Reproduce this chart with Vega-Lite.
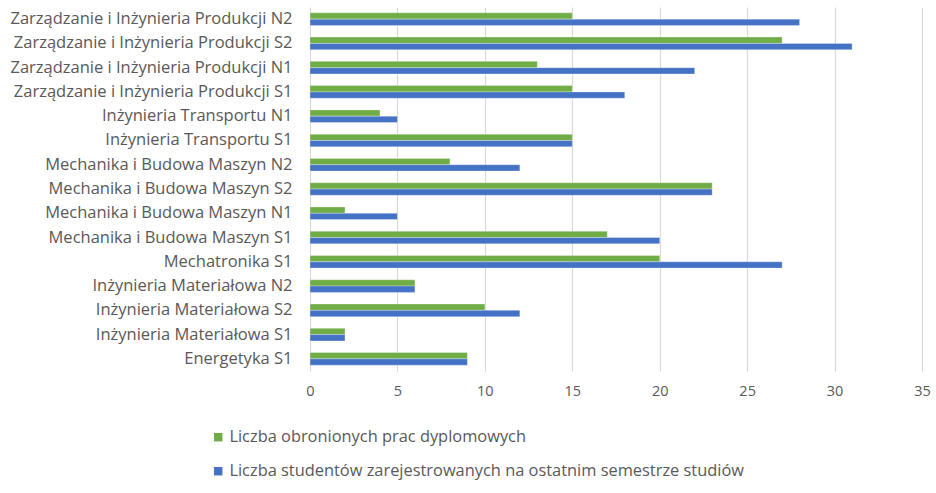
{
  "$schema": "https://vega.github.io/schema/vega-lite/v6.json",
  "width": 612,
  "height": 364,
  "autosize": {"type": "none"},
  "padding": {"left": 310, "top": 7, "right": 14, "bottom": 122},
  "background": "white",
  "config": {
    "font": "Open Sans",
    "view": {"stroke": null},
    "axis": {"labelColor": "#595959", "labelFont": "Open Sans", "labelFontSize": 16.5},
    "legend": {"labelColor": "#595959", "labelFont": "Open Sans", "labelFontSize": 16.4}
  },
  "data": {
    "values": [
      {"kierunek": "Zarządzanie i Inżynieria Produkcji N2", "seria": "Liczba obronionych prac dyplomowych", "wartosc": 15},
      {"kierunek": "Zarządzanie i Inżynieria Produkcji N2", "seria": "Liczba studentów zarejestrowanych na ostatnim semestrze studiów", "wartosc": 28},
      {"kierunek": "Zarządzanie i Inżynieria Produkcji S2", "seria": "Liczba obronionych prac dyplomowych", "wartosc": 27},
      {"kierunek": "Zarządzanie i Inżynieria Produkcji S2", "seria": "Liczba studentów zarejestrowanych na ostatnim semestrze studiów", "wartosc": 31},
      {"kierunek": "Zarządzanie i Inżynieria Produkcji N1", "seria": "Liczba obronionych prac dyplomowych", "wartosc": 13},
      {"kierunek": "Zarządzanie i Inżynieria Produkcji N1", "seria": "Liczba studentów zarejestrowanych na ostatnim semestrze studiów", "wartosc": 22},
      {"kierunek": "Zarządzanie i Inżynieria Produkcji S1", "seria": "Liczba obronionych prac dyplomowych", "wartosc": 15},
      {"kierunek": "Zarządzanie i Inżynieria Produkcji S1", "seria": "Liczba studentów zarejestrowanych na ostatnim semestrze studiów", "wartosc": 18},
      {"kierunek": "Inżynieria Transportu  N1", "seria": "Liczba obronionych prac dyplomowych", "wartosc": 4},
      {"kierunek": "Inżynieria Transportu  N1", "seria": "Liczba studentów zarejestrowanych na ostatnim semestrze studiów", "wartosc": 5},
      {"kierunek": "Inżynieria Transportu  S1", "seria": "Liczba obronionych prac dyplomowych", "wartosc": 15},
      {"kierunek": "Inżynieria Transportu  S1", "seria": "Liczba studentów zarejestrowanych na ostatnim semestrze studiów", "wartosc": 15},
      {"kierunek": "Mechanika i Budowa Maszyn N2", "seria": "Liczba obronionych prac dyplomowych", "wartosc": 8},
      {"kierunek": "Mechanika i Budowa Maszyn N2", "seria": "Liczba studentów zarejestrowanych na ostatnim semestrze studiów", "wartosc": 12},
      {"kierunek": "Mechanika i Budowa Maszyn S2", "seria": "Liczba obronionych prac dyplomowych", "wartosc": 23},
      {"kierunek": "Mechanika i Budowa Maszyn S2", "seria": "Liczba studentów zarejestrowanych na ostatnim semestrze studiów", "wartosc": 23},
      {"kierunek": "Mechanika i Budowa Maszyn N1", "seria": "Liczba obronionych prac dyplomowych", "wartosc": 2},
      {"kierunek": "Mechanika i Budowa Maszyn N1", "seria": "Liczba studentów zarejestrowanych na ostatnim semestrze studiów", "wartosc": 5},
      {"kierunek": "Mechanika i Budowa Maszyn S1", "seria": "Liczba obronionych prac dyplomowych", "wartosc": 17},
      {"kierunek": "Mechanika i Budowa Maszyn S1", "seria": "Liczba studentów zarejestrowanych na ostatnim semestrze studiów", "wartosc": 20},
      {"kierunek": "Mechatronika S1", "seria": "Liczba obronionych prac dyplomowych", "wartosc": 20},
      {"kierunek": "Mechatronika S1", "seria": "Liczba studentów zarejestrowanych na ostatnim semestrze studiów", "wartosc": 27},
      {"kierunek": "Inżynieria Materiałowa N2", "seria": "Liczba obronionych prac dyplomowych", "wartosc": 6},
      {"kierunek": "Inżynieria Materiałowa N2", "seria": "Liczba studentów zarejestrowanych na ostatnim semestrze studiów", "wartosc": 6},
      {"kierunek": "Inżynieria Materiałowa S2", "seria": "Liczba obronionych prac dyplomowych", "wartosc": 10},
      {"kierunek": "Inżynieria Materiałowa S2", "seria": "Liczba studentów zarejestrowanych na ostatnim semestrze studiów", "wartosc": 12},
      {"kierunek": "Inżynieria Materiałowa S1", "seria": "Liczba obronionych prac dyplomowych", "wartosc": 2},
      {"kierunek": "Inżynieria Materiałowa S1", "seria": "Liczba studentów zarejestrowanych na ostatnim semestrze studiów", "wartosc": 2},
      {"kierunek": "Energetyka S1", "seria": "Liczba obronionych prac dyplomowych", "wartosc": 9},
      {"kierunek": "Energetyka S1", "seria": "Liczba studentów zarejestrowanych na ostatnim semestrze studiów", "wartosc": 9}
    ]
  },
  "mark": {"type": "bar", "stroke": "white", "strokeOpacity": 0.5, "strokeWidth": 0.6},
  "encoding": {
    "y": {
      "field": "kierunek",
      "type": "nominal",
      "sort": null,
      "scale": {"paddingInner": 0.48, "paddingOuter": 0.24},
      "axis": {"title": null, "ticks": false, "domain": false, "labelPadding": 18, "labelLimit": 320}
    },
    "x": {
      "field": "wartosc",
      "type": "quantitative",
      "scale": {"domain": [0, 35], "nice": false},
      "axis": {"title": null, "values": [0, 5, 10, 15, 20, 25, 30, 35], "ticks": false, "domain": false, "grid": true, "gridColor": "#d9d9d9", "gridWidth": 1.2, "labelPadding": 13, "labelFlush": false, "labelFontSize": 14.5}
    },
    "yOffset": {"field": "seria", "type": "nominal", "sort": null},
    "color": {
      "field": "seria",
      "type": "nominal",
      "sort": null,
      "scale": {"range": ["#70AD47", "#4472C4"]},
      "legend": {
        "title": null,
        "orient": "none",
        "legendX": -100,
        "legendY": 422,
        "direction": "vertical",
        "symbolType": "square",
        "symbolSize": 72,
        "symbolStrokeWidth": 0,
        "rowPadding": 17,
        "labelLimit": 700,
        "labelOffset": 3
      }
    }
  }
}
